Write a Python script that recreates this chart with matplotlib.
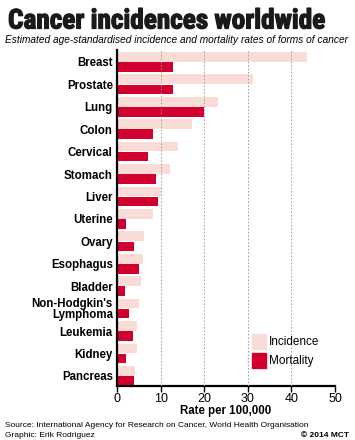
import matplotlib
matplotlib.use("Agg")
import matplotlib.pyplot as plt
from matplotlib.patches import Rectangle
from matplotlib import font_manager
import matplotlib.patheffects as pe
import numpy as np

categories = ["Breast", "Prostate", "Lung", "Colon", "Cervical", "Stomach", "Liver",
              "Uterine", "Ovary", "Esophagus", "Bladder", "Non-Hodgkin's\nLymphoma",
              "Leukemia", "Kidney", "Pancreas"]
incidence = [43.5, 31.2, 23.2, 17.2, 14.1, 12.2, 10.2, 8.3, 6.2, 5.9, 5.4, 5.0, 4.7, 4.5, 4.2]
mortality = [12.8, 12.8, 19.9, 8.3, 7.0, 8.9, 9.5, 2.0, 3.9, 5.0, 1.9, 2.7, 3.6, 2.0, 3.9]
xticks = [0, 10, 20, 30, 40, 50]

inc_color = "#f9dcd5"
mort_color = "#d2002f"

names = {f.name for f in font_manager.fontManager.ttflist}
title_family = "DejaVu Sans"
for cand in ["Roboto Condensed", "Barlow Condensed", "Archivo Narrow", "PT Sans Narrow",
             "Liberation Sans Narrow", "Open Sans Condensed"]:
    if cand in names:
        title_family = cand
        break
base = "Liberation Sans" if "Liberation Sans" in names else "DejaVu Sans"
plt.rcParams["font.family"] = [base, "DejaVu Sans"]

W, H = 355, 440
fig = plt.figure(figsize=(W / 100, H / 100), dpi=100)
ax = fig.add_axes([117 / W, 54 / H, (335 - 117) / W, (386 - 50) / H])

y = np.arange(len(categories))
bh = 0.43
ax.barh(y - 0.225, incidence, height=bh, color=inc_color, zorder=2)
ax.barh(y + 0.225, mortality, height=bh, color=mort_color, zorder=2)

ax.set_xlim(0, 50)
ax.set_ylim(14.45, -0.53)
ax.set_xticks(xticks)
ax.set_xticklabels([str(t) for t in xticks], fontsize=9)
ax.set_yticks(y)
ax.set_yticklabels(categories, fontsize=8.3, fontweight="bold", linespacing=0.85)
ax.tick_params(axis="y", length=0, pad=3)
ax.tick_params(axis="x", length=4, width=1, direction="out", pad=1, color="black")
for xv in xticks[1:]:
    ax.axvline(xv, color="#9a9a9a", lw=0.7, ls=(0, (1.5, 2)), zorder=3)
for s in ["top", "right"]:
    ax.spines[s].set_visible(False)
ax.spines["left"].set_linewidth(1.6)
ax.spines["bottom"].set_linewidth(1.6)
ax.spines["left"].set_zorder(4)
ax.set_xlabel("Rate per 100,000", fontsize=8.3, fontweight="bold", labelpad=0)

# legend
for yy, c, lab in [(334, inc_color, "Incidence"), (353, mort_color, "Mortality")]:
    fig.patches.append(Rectangle((252 / W, 1 - (yy + 15) / H), 14 / W, 15 / H,
                                 transform=fig.transFigure, color=c, zorder=5))
    fig.text(269 / W, 1 - (yy + 7.5) / H, lab, fontsize=8.5, va="center", ha="left")

title = fig.text(8 / W, 1 - 28.5 / H, "Cancer incidences worldwide", fontsize=20,
                 fontweight="black", family=title_family, ha="left", va="baseline",
                 color="#1a1a1a")
fig.canvas.draw()
tw = title.get_window_extent().width
title.set_fontsize(20 * 316 / tw)
title.set_path_effects([pe.withStroke(linewidth=0.9, foreground="#1a1a1a")])

fig.text(5 / W, 1 - 43 / H,
         "Estimated age-standardised incidence and mortality rates of forms of cancer",
         fontsize=7.3, style="italic", ha="left", va="baseline")
fig.text(5 / W, 1 - 427 / H,
         "Source: International Agency for Research on Cancer, World Health Organisation",
         fontsize=6.05, ha="left", va="baseline")
fig.text(5 / W, 1 - 437 / H, "Graphic: Erik Rodriguez", fontsize=6.05, ha="left", va="baseline")
fig.text(349 / W, 1 - 437 / H, "© 2014 MCT", fontsize=6.05, fontweight="bold",
         ha="right", va="baseline")

fig.savefig("out.png", dpi=100)
